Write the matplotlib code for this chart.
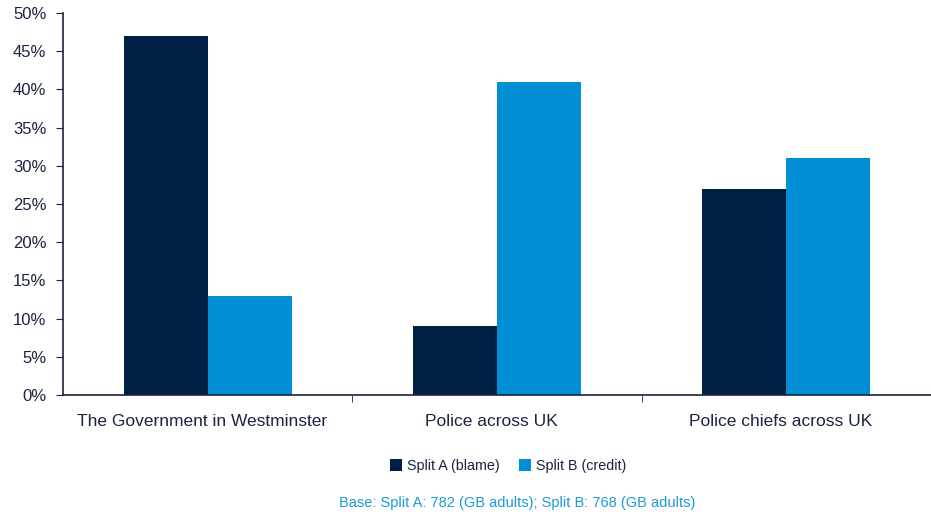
import numpy as np
import matplotlib.pyplot as plt
from matplotlib.ticker import PercentFormatter
from matplotlib.transforms import ScaledTranslation

plt.rcParams['font.family'] = ['Liberation Sans', 'DejaVu Sans']

# --- DATA ---
categories = ['The Government in Westminster', 'Police across UK', 'Police chiefs across UK']
split_a = [47, 9, 27]   # blame
split_b = [13, 41, 31]  # credit
series_names = ['Split A (blame)', 'Split B (credit)']
base_note = 'Base: Split A: 782 (GB adults); Split B: 768 (GB adults)'

NAVY = '#001f45'
BLUE = '#008fd5'
TEXT = '#1a2340'

fig = plt.figure(figsize=(9.31, 5.16), dpi=100)
ax = fig.add_axes([0.0677, 0.2345, 0.9323, 0.7405])

x = np.arange(len(categories))
w = 0.29
ax.bar(x - w / 2, split_a, width=w, color=NAVY, label=series_names[0])
ax.bar(x + w / 2, split_b, width=w, color=BLUE, label=series_names[1])

ax.set_xlim(-0.5, len(categories) - 0.5)
ax.set_ylim(0, 50)
ax.set_yticks(np.arange(0, 51, 5))
ax.yaxis.set_major_formatter(PercentFormatter(decimals=0))

# category labels sit under the centre, ticks mark the boundaries
ax.set_xticks(x)
ax.set_xticklabels(categories, fontsize=12.5, color=TEXT)
ax.tick_params(axis='x', which='major', length=0, pad=14)
shift = ScaledTranslation(-6 / 100, 0, fig.dpi_scale_trans)
for lbl in ax.get_xticklabels():
    lbl.set_transform(lbl.get_transform() + shift)
ax.set_xticks(np.arange(0.5, len(categories) - 0.5), minor=True)
ax.tick_params(axis='x', which='minor', length=5, direction='out', color=TEXT)
ax.tick_params(axis='y', length=5, direction='out', color=TEXT, labelsize=12, labelcolor=TEXT, pad=7)

for side in ['top', 'right']:
    ax.spines[side].set_visible(False)
for side in ['left', 'bottom']:
    ax.spines[side].set_color(TEXT)
    ax.spines[side].set_linewidth(1.2)

fig.legend(loc='center', bbox_to_anchor=(0.546, 0.097), ncol=2, frameon=False,
           fontsize=10.3, handlelength=0.85, handleheight=0.85, columnspacing=1.3,
           handletextpad=0.35, labelcolor=TEXT)

fig.text(0.555, 0.025, base_note, ha='center', va='center', fontsize=10.5, color='#1a9ad6')

fig.savefig('out.png', dpi=100)
